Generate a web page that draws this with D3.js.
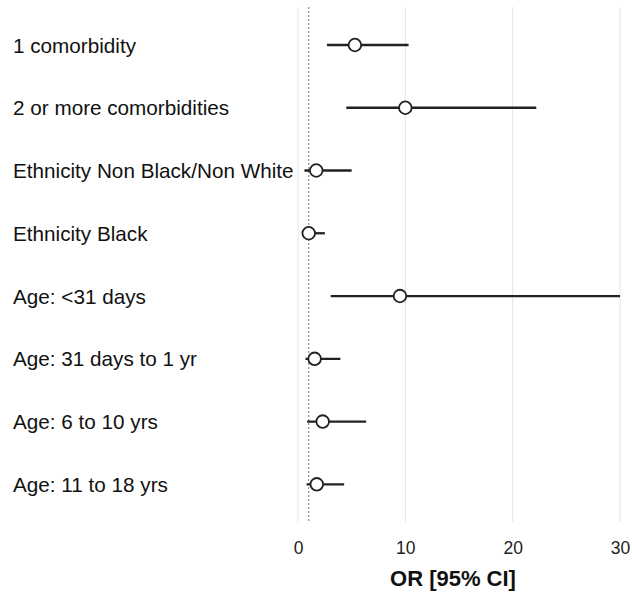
<!DOCTYPE html>
<html><head><meta charset="utf-8">
<script src="https://cdn.jsdelivr.net/npm/d3@7"></script>
<style>body{margin:0;background:#fff;} svg{display:block;font-family:"Liberation Sans",Arial,sans-serif;}</style>
</head><body>
<script>
const categories = ["1 comorbidity","2 or more comorbidities","Ethnicity Non Black/Non White","Ethnicity Black","Age: <31 days","Age: 31 days to 1 yr","Age: 6 to 10 yrs","Age: 11 to 18 yrs"];
const orValues = [5.3, 10.0, 1.7, 1.0, 9.5, 1.55, 2.3, 1.75];
const ciLower = [2.7, 4.5, 0.6, 0.95, 3.05, 0.7, 0.85, 0.8];
const ciUpper = [10.3, 22.2, 5.0, 2.5, 30.0, 3.95, 6.35, 4.3];
const xTicks = [0, 10, 20, 30];
const refValue = 1;

(function(){
const W = 632, H = 596;
const svg = d3.select("body").append("svg").attr("width", W).attr("height", H);
const x = d3.scaleLinear().domain([0, 30]).range([298, 620]);
const y = d3.scalePoint().domain(categories).range([45, 484.3]);
const yTop = 7, yBottom = 522;

svg.append("g").selectAll("line").data(xTicks).join("line")
  .attr("x1", d => x(d)).attr("x2", d => x(d)).attr("y1", yTop).attr("y2", yBottom)
  .attr("stroke", "#e3e3e3").attr("stroke-width", 1);

svg.append("line").attr("x1", x(refValue)).attr("x2", x(refValue)).attr("y1", yTop).attr("y2", yBottom)
  .attr("stroke", "#999").attr("stroke-width", 1.3).attr("stroke-dasharray", "2,2");

const axis = svg.append("g").attr("transform", `translate(0,${yBottom})`)
  .call(d3.axisBottom(x).tickValues(xTicks).tickSize(0).tickPadding(20));
axis.select(".domain").remove();
axis.selectAll("text").attr("font-size", 17.5).attr("fill", "#222").attr("font-family", "Liberation Sans, Arial, sans-serif");

svg.append("text").attr("x", 453).attr("y", 586).attr("text-anchor", "middle")
  .attr("font-size", 22).attr("font-weight", "bold").attr("fill", "#111").text("OR [95% CI]");

svg.append("g").selectAll("text").data(categories).join("text")
  .attr("x", 13).attr("y", d => y(d)).attr("dominant-baseline", "central")
  .attr("font-size", 20.7).attr("fill", "#111").text(d => d);

const rows = categories.map((c, i) => ({c, v: orValues[i], lo: ciLower[i], hi: ciUpper[i]}));
svg.append("g").selectAll("line").data(rows).join("line")
  .attr("x1", d => x(d.lo)).attr("x2", d => x(d.hi)).attr("y1", d => y(d.c)).attr("y2", d => y(d.c))
  .attr("stroke", "#222").attr("stroke-width", 2.3);

svg.append("g").selectAll("circle").data(rows).join("circle")
  .attr("cx", d => x(d.v)).attr("cy", d => y(d.c)).attr("r", 6.3)
  .attr("fill", "#fff").attr("stroke", "#222").attr("stroke-width", 1.8);
})();
</script>
</body></html>
